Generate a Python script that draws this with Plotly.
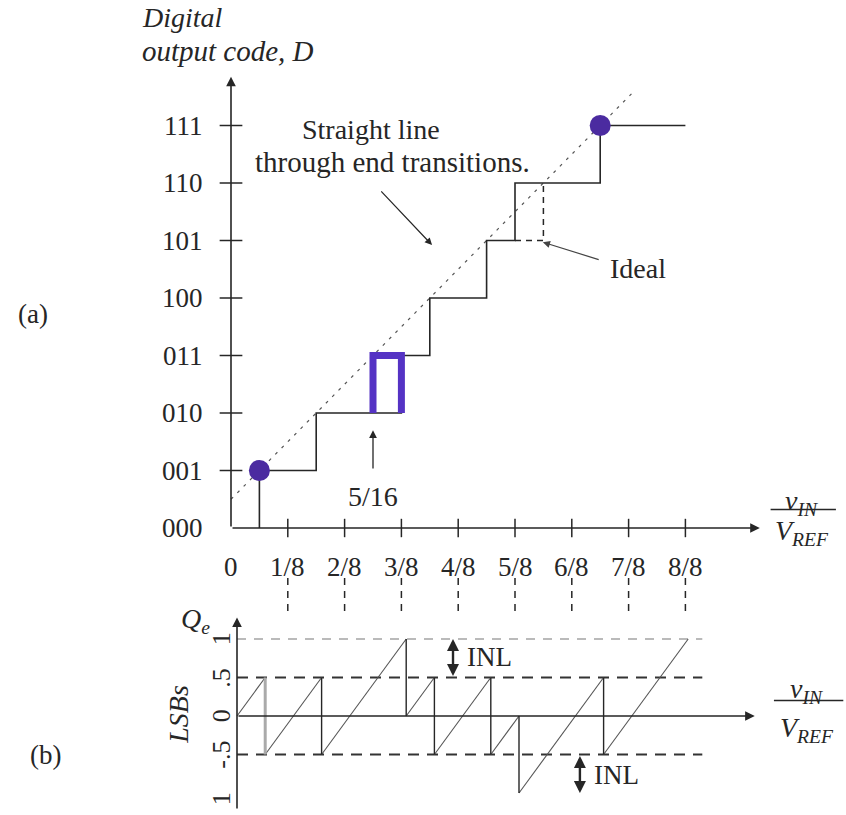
import plotly.graph_objects as go

W, H = 846, 815
FONT = "Liberation Serif"
INK = "#262626"
PURPLE = "#4b2ba0"

# ---------------- (a) 3-bit ADC transfer curve ----------------
code_labels = ["000", "001", "010", "011", "100", "101", "110", "111"]
vin_labels = ["0", "1/8", "2/8", "3/8", "4/8", "5/8", "6/8", "7/8", "8/8"]

# staircase corners (input in LSB = VREF/8, output code)
stair_vin = [0.5, 0.5, 1.5, 3.0, 3.5, 4.5, 5.0, 6.5, 8.0]
stair_code = [0, 1, 2, 3, 4, 5, 6, 7, 7]

# end transitions and the straight line through them
end_vin = [0.5, 6.5]
end_code = [1, 7]
endline_vin = [0.0, 7.05]
endline_code = [0.5, 7.55]

# ideal 101 -> 110 step
ideal_vin = [5.0, 5.5, 5.5]
ideal_code = [5, 5, 6]

# ideal 010 -> 011 transition at 5/16 highlighted
mark_vin = [2.5, 2.5, 3.0, 3.0]
mark_code = [2, 3, 3, 2]

# ---------------- (b) quantization error ----------------
qe_vin = [0, 0.5, 0.5, 1.5, 1.5, 3.0, 3.0, 3.5, 3.5, 4.5, 4.5, 5.0, 5.0, 6.5, 6.5, 8.0]
qe_lsb = [0, 0.5, -0.5, 0.5, -0.5, 1.0, 0.0, 0.5, -0.5, 0.5, -0.5, 0.0, -1.0, 0.5, -0.5, 1.0]
qe_tick_vals = [1, 0.5, 0, -0.5, -1]
qe_tick_text = ["1", ".5", "0", "-.5", "1"]
bound_levels = [1.0, 0.5, -0.5]


def axis_range(origin_px, px_per_unit, size, flip=False):
    """Data range that places value 0 at origin_px with the given pixel scale."""
    if not flip:
        return [-origin_px / px_per_unit, (size - origin_px) / px_per_unit]
    return [(origin_px - size) / px_per_unit, origin_px / px_per_unit]


fig = go.Figure()

A = dict(xaxis="x", yaxis="y")
B = dict(xaxis="x2", yaxis="y2")


def seg_trace(xs, ys, ax, **line):
    fig.add_trace(go.Scatter(x=xs, y=ys, mode="lines", line=line,
                             hoverinfo="skip", showlegend=False, **ax))


# ---- panel (a) ----
# straight line through end transitions
seg_trace(endline_vin, endline_code, A, color="#555", width=1.2, dash="3px,6px")
# ideal step
seg_trace(ideal_vin, ideal_code, A, color=INK, width=1.5, dash="6px,5px")
# actual staircase
fig.add_trace(go.Scatter(x=stair_vin, y=stair_code, mode="lines",
                         line=dict(color=INK, width=1.6, shape="hv"),
                         hoverinfo="skip", showlegend=False, **A))
# highlighted transition
seg_trace(mark_vin, mark_code, A, color="#5533c4", width=7)
# end-transition dots
fig.add_trace(go.Scatter(x=end_vin, y=end_code, mode="markers",
                         marker=dict(color=PURPLE, size=21),
                         hoverinfo="skip", showlegend=False, **A))

# tick marks crossing the axes
tx, ty = [], []
for k in range(1, len(vin_labels)):
    tx += [k, k, None]
    ty += [-0.16, 0.16, None]
for c in range(1, len(code_labels)):
    tx += [-0.2, 0.2, None]
    ty += [c, c, None]
seg_trace(tx, ty, A, color=INK, width=1.5)

# dashed guides from (a) down to (b)
gx, gy = [], []
for k in range(1, len(vin_labels)):
    gx += [k, k, None]
    gy += [-0.87, -1.52, None]
seg_trace(gx, gy, A, color=INK, width=1.5, dash="7px,6px")

# ---- panel (b) ----
for lvl in bound_levels:
    if abs(lvl) == 1.0:
        seg_trace([0, 8.25], [lvl, lvl], B, color="#777", width=1.2, dash="9px,8px")
    else:
        seg_trace([0, 8.25], [lvl, lvl], B, color="#333", width=2, dash="11px,8px")

rx, ry, dx, dy = [], [], [], []
for i in range(0, len(qe_vin) - 1):
    if i % 2 == 0:
        rx += [qe_vin[i], qe_vin[i + 1], None]
        ry += [qe_lsb[i], qe_lsb[i + 1], None]
    else:
        dx += [qe_vin[i], qe_vin[i + 1], None]
        dy += [qe_lsb[i], qe_lsb[i + 1], None]
seg_trace(rx, ry, B, color="#555", width=1.1)
seg_trace(dx, dy, B, color=INK, width=1.4)
# the first drop is printed lighter and wider
seg_trace(qe_vin[1:3], qe_lsb[1:3], B, color="#aaa", width=3)

# ---------------- annotations ----------------
ann = []


def text(x, y, s, ref="a", size=27, **kw):
    xr, yr = ("x", "y") if ref == "a" else ("x2", "y2")
    ann.append(dict(x=x, y=y, xref=xr, yref=yr, text=s, showarrow=False,
                    font=dict(family=FONT, size=size, color=INK), **kw))


def arrow(x, y, tx_, ty_, ref="a", width=1.6, head=2, size=1.2, side="end", color=INK):
    xr, yr = ("x", "y") if ref == "a" else ("x2", "y2")
    ann.append(dict(x=x, y=y, ax=tx_, ay=ty_, xref=xr, yref=yr, axref=xr, ayref=yr,
                    text="", showarrow=True, arrowhead=head, startarrowhead=head,
                    arrowsize=size, startarrowsize=size, arrowwidth=width,
                    arrowside=side, arrowcolor=color))


# (a) axes
arrow(0, 7.85, 0, 0)
arrow(9.31, 0, 0, 0)
for c, lab in enumerate(code_labels):
    text(-0.46, c, lab, xanchor="right")
for k, lab in enumerate(vin_labels):
    text(k, -0.68, lab)
text(-0.85, 8.87, "<i>Digital</i>", size=28)
text(-0.05, 8.3, "<i>output code, D</i>", size=29)
text(-3.49, 3.72, "(a)")

# v_IN / V_REF for (a)
text(10.05, 0.45, "<i>v<sub>IN</sub></i>", size=28)
seg_trace([9.5, 10.65], [0.32, 0.32], A, color=INK, width=1.5)
text(10.05, -0.08, "<i>V<sub>REF</sub></i>", size=28)

# labels inside (a)
text(2.46, 6.93, "Straight line", size=28)
text(2.85, 6.37, "through end transitions.", size=29)
arrow(3.54, 4.92, 2.62, 5.88, width=1.2)
text(7.17, 4.52, "Ideal", size=28)
arrow(5.49, 4.97, 6.5, 4.66, width=1.2, color="#444")
arrow(2.5, 1.7, 2.5, 1.01, width=1.3)
text(2.5, 0.54, "5/16", size=28)

# (b) axes
arrow(0, 1.28, 0, -1.22, ref="b")
arrow(9.18, 0, 0, 0, ref="b")
for v, lab in zip(qe_tick_vals, qe_tick_text):
    text(-0.28, v if v != -1 else -1.08, lab, ref="b", size=26, textangle=-90)
text(-0.74, 1.24, "<i>Q<sub>e</sub></i>", ref="b", size=28)
text(-1.04, 0.02, "<i>LSBs</i>", ref="b", size=28, textangle=-90)
text(-3.40, -0.51, "(b)", ref="b")

text(10.1, 0.33, "<i>v<sub>IN</sub></i>", ref="b", size=28)
seg_trace([9.52, 10.75], [0.2, 0.2], B, color=INK, width=1.5)
text(10.1, -0.17, "<i>V<sub>REF</sub></i>", ref="b", size=28)

# INL markers
arrow(3.83, 1.0, 3.83, 0.5, ref="b", width=2.4, size=1.0, side="end+start")
text(4.05, 0.77, "INL", ref="b", xanchor="left")
arrow(6.08, -1.0, 6.08, -0.5, ref="b", width=2.4, size=1.0, side="end+start")
text(6.3, -0.77, "INL", ref="b", xanchor="left")

fig.update_layout(
    width=W, height=H,
    margin=dict(l=0, r=0, t=0, b=0),
    paper_bgcolor="white", plot_bgcolor="white",
    showlegend=False,
    annotations=ann,
    xaxis=dict(domain=[0, 1], range=axis_range(231, 56.8, W), visible=False),
    yaxis=dict(domain=[0, 1], anchor="x", range=axis_range(528, 57.5, H, flip=True), visible=False),
    xaxis2=dict(overlaying="x", anchor="y2", range=axis_range(237, 56.4, W), visible=False),
    yaxis2=dict(overlaying="y", anchor="x2", range=axis_range(716, 77, H, flip=True), visible=False),
)

fig.write_html("out.html")
